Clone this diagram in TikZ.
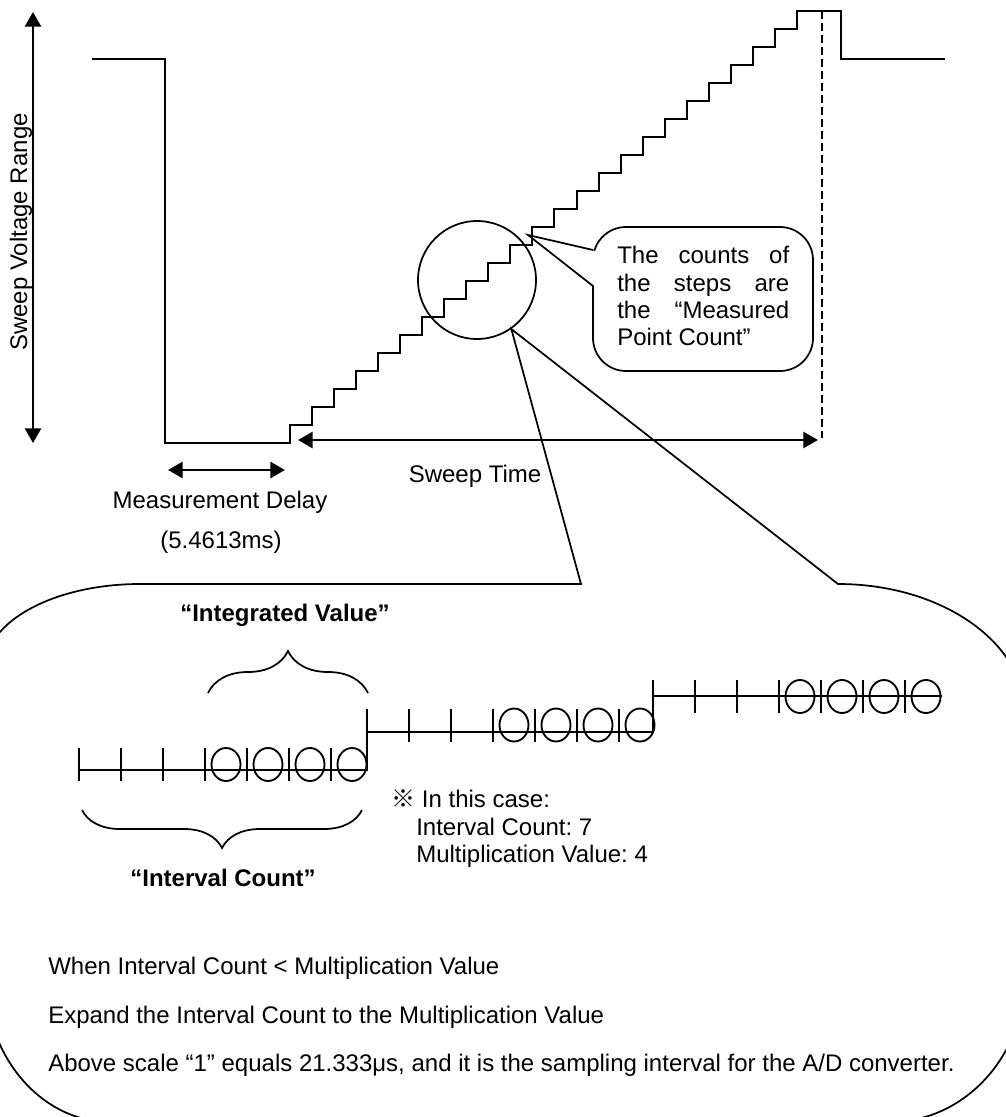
\documentclass[tikz,border=0pt]{standalone}
\usepackage{fontspec}
\setmainfont{Liberation Sans}
\newfontfamily\cjk{Noto Sans CJK JP}
\usetikzlibrary{arrows.meta,decorations.pathreplacing,calc}
\frenchspacing
\begin{document}
\begin{tikzpicture}[x=0.75pt,y=-0.75pt,
  txt/.style={font=\fontsize{18pt}{20.6pt}\selectfont, inner sep=0pt},
  boldtxt/.style={font=\fontsize{18pt}{20.6pt}\selectfont\bfseries, inner sep=0pt},
  waveline/.style={line width=1.5pt, line join=miter},
  fine/.style={line width=1.3pt},
  dimarrow/.style={line width=2pt, {Triangle[length=11pt,width=12pt]}-{Triangle[length=11pt,width=12pt]}},
  tickline/.style={line width=1.4pt},
]
\useasboundingbox (0,0) rectangle (1006,1117);
\clip (0,0) rectangle (1006,1117);

% ---------- speech bubble with the step-count remark ----------
\node[draw, fine, rounded corners=24.75pt, minimum width=165pt, minimum height=108pt] (note) at (703,299) {};
\coordinate (wa) at (593,250);
\coordinate (wb) at (593,286);
\coordinate (wt) at (528,235);
\fill[white] (wa) -- (wt) -- (wb) -- cycle;
\fill[white] ($(wa)+(-2,1)$) rectangle ($(wb)+(2,-1)$);
\draw[fine] (wa) -- (wt) -- (wb);
\node[txt, anchor=base west] (n1) at (617,263) {\makebox[129pt][s]{The counts of}};
\node[txt, anchor=base west] (n2) at (617,291) {\makebox[129pt][s]{the steps are}};
\node[txt, anchor=base west] (n3) at (617,318) {\makebox[129pt][s]{the “Measured}};
\node[txt, anchor=base west] (n4) at (617,345) {Point Count”};

% ---------- sweep voltage waveform ----------
\draw[waveline] (92,59) -- (165,59) -- (165,443) -- (290,443)
  \foreach \k in {0,...,23} { -- ++(0,-18) -- ++(22.04,0) }
  -- (841,11) -- (841,59) -- (945,59);

% end of sweep marker
\coordinate (endtop) at (822,11);
\coordinate (endbot) at (822,438);
\draw[line width=1.3pt, dash pattern=on 6pt off 3pt] (endtop) -- (endbot);

% ---------- dimension arrows ----------
\coordinate (vtop) at (33,12);
\coordinate (vbot) at (33,443);
\draw[dimarrow] (vtop) -- (vbot);
\node[txt, rotate=90, anchor=base] (svr) at (27,232) {Sweep Voltage Range};

\coordinate (mdl) at (168,470);
\coordinate (mdr) at (285,470);
\draw[dimarrow] (mdl) -- (mdr);
\node[txt, anchor=base] (md) at (220,508) {Measurement Delay};
\node[txt, anchor=base] (mdv) at (221,548) {(5.4613ms)};

\coordinate (stl) at (298,440);
\coordinate (str) at (818,440);
\draw[dimarrow] (stl) -- (str);
\node[txt, anchor=base] (st) at (475,482) {Sweep Time};

% ---------- magnifier ----------
\node[draw, fine, circle, minimum size=88.5pt, inner sep=0pt] (mag) at (477,280) {};

% ---------- enlarged view balloon ----------
\coordinate (bl) at (581,584);
\coordinate (br) at (838,584);
\draw[fine] (bl) -- (140,584)
  .. controls (54.4,584) and (-15,621.6) .. (-15,668)
  -- (-15,975)
  .. controls (-15,1056) and (41,1122) .. (110,1122)
  -- (890,1122)
  .. controls (964.6,1122) and (1025,1056) .. (1025,975)
  -- (1025,714)
  .. controls (1025,642.2) and (941.3,584) .. (br)
  -- (mag.-55) -- cycle;

% ---------- sampling time line ----------
\draw[tickline] (79,770) -- (367,770) -- (367,732) -- (653,732) -- (653,696) -- (942,696);
\foreach \t/\yc in {79/764.5, 367/725, 653/696.5} {
  \foreach \j in {0,...,6}
    \draw[tickline] (\t+42*\j, \yc-16.5) -- (\t+42*\j, \yc+16.5);
  \foreach \j in {3,...,6}
    \draw[tickline] (\t+42*\j+21, \yc) ellipse [x radius=14.5, y radius=16.5];
}

% braces
\draw[fine, decorate, decoration={brace, amplitude=31.5pt}] (208,693) -- (368,693);
\node[boldtxt, anchor=base] (iv) at (285,621) {“Integrated Value”};
\draw[fine, decorate, decoration={brace, amplitude=28.5pt}] (362,810) -- (82,810);
\node[boldtxt, anchor=base] (ic) at (223,886) {“Interval Count”};

% remarks
\node[txt, anchor=base west] (r1) at (391,807) {{\cjk ※} In this case:};
\node[txt, anchor=base west] (r2) at (416,835) {Interval Count: 7};
\node[txt, anchor=base west] (r3) at (416,862) {Multiplication Value: 4};

\node[txt, anchor=base west] (b1) at (48,974) {When Interval Count < Multiplication Value};
\node[txt, anchor=base west] (b2) at (48,1023) {Expand the Interval Count to the Multiplication Value};
\node[txt, anchor=base west] (b3) at (48,1071) {Above scale “1” equals 21.333μs, and it is the sampling interval for the A/D converter.};
\end{tikzpicture}
\end{document}
